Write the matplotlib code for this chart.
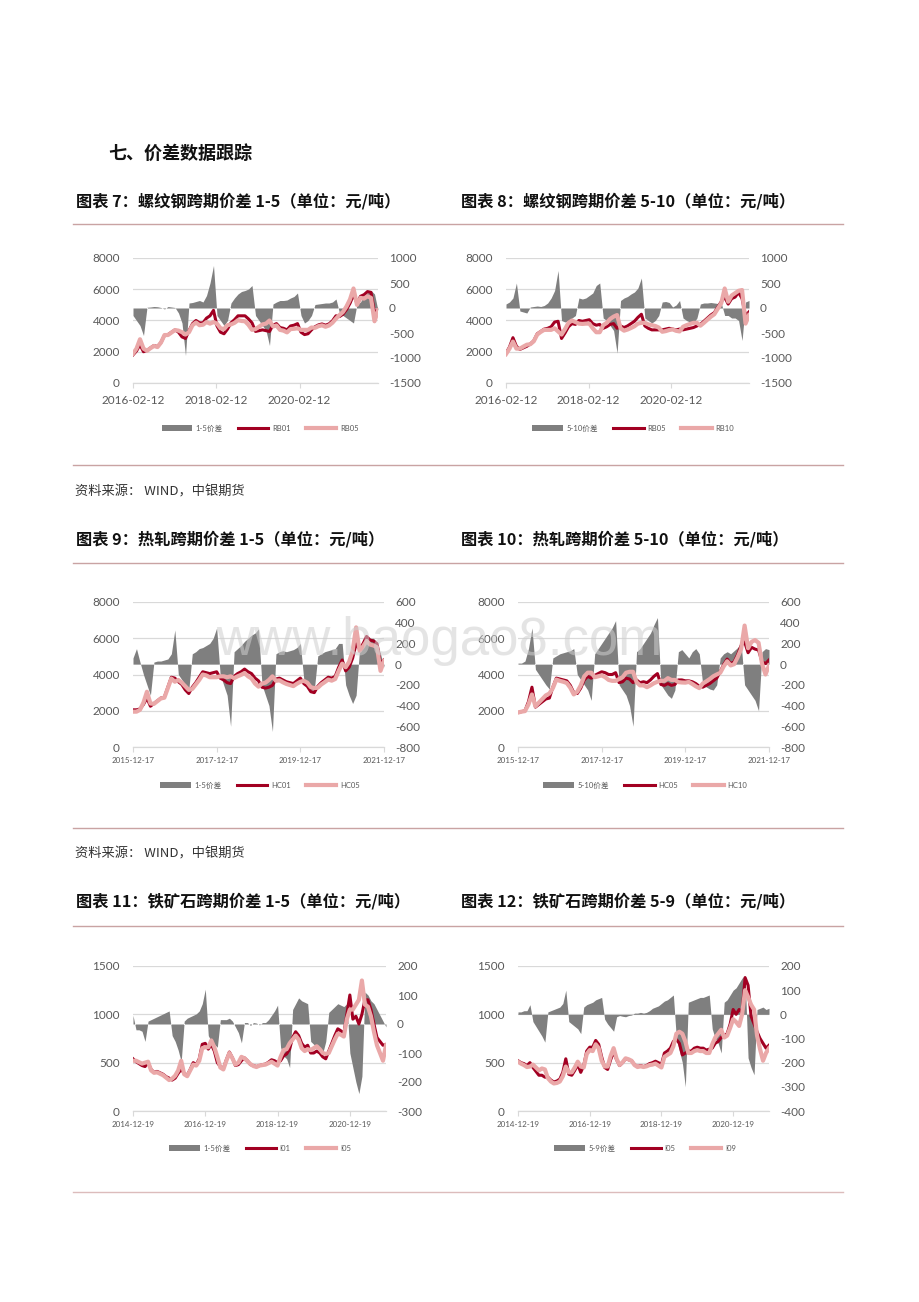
import matplotlib
matplotlib.use('Agg')
import matplotlib.pyplot as plt
from matplotlib.lines import Line2D
from matplotlib.patches import Patch
import pandas as pd

plt.rcParams['font.family'] = ['Lato', 'Noto Sans CJK SC', 'DejaVu Sans']
plt.rcParams['axes.unicode_minus'] = False

# ---------------- data (monthly readings) ----------------
# Chart 7: rebar 1-5 spread, 2016-02 .. 2021-12
c7_spread = [-150, -250, -350, -550, 15, 20, 30, 25, 10, -20, 30, 20, 10, -100, -300, -950,
             100, 110, 130, 150, 120, 250, 500, 850, -150, -250, -350, -250, 100, 200, 280, 330,
             350, 380, 450, -150, -250, -350, -450, -750, 80, 120, 150, 150, 160, 200, 230, 300,
             -150, -300, -250, -150, 70, 80, 90, 100, 100, 120, 180, -100, -150, -200, -250, -300,
             80, 120, 250, 300, 350, 280, -50]
c7_rb01 = [1800, 2050, 2450, 2000, 2080, 2250, 2400, 2330, 2600, 3050, 3100, 3250, 3400, 3250, 2950, 2850,
           3350, 3800, 4000, 3850, 3850, 4150, 4300, 4650, 3650, 3250, 3150, 3450, 3850, 4050, 4300, 4300,
           4300, 4100, 3850, 3300, 3350, 3400, 3350, 3300, 3700, 3800, 3550, 3500, 3400, 3650, 3700, 3800,
           3250, 3100, 3150, 3400, 3600, 3720, 3780, 3700, 3780, 3980, 4300, 4250, 4400, 4700, 5100, 5650,
           5100, 5550, 5650, 5850, 5800, 4500, 4700]
c7_rb05 = [1880, 2200, 2800, 2200, 2060, 2230, 2370, 2300, 2590, 3070, 3070, 3230, 3390, 3350, 3250, 3100,
           3250, 3700, 3870, 3700, 3730, 3900, 3800, 3900, 3800, 3500, 3450, 3700, 3750, 3850, 4020, 3970,
           3950, 3720, 3400, 3450, 3600, 3750, 3800, 4000, 3620, 3680, 3400, 3350, 3240, 3450, 3470, 3500,
           3400, 3400, 3400, 3550, 3530, 3640, 3690, 3600, 3680, 3860, 4120, 4350, 4550, 4900, 5350, 6050,
           5000, 5450, 5400, 5550, 5450, 3950, 4650]

# Chart 8: rebar 5-10 spread, 2016-02 .. 2021-12
c8_spread = [80, 120, 200, 500, -60, -80, -100, 20, 30, 40, 30, 50, 100, 200, 350, 750,
             -250, -280, -250, -200, -150, 200, 180, 200, 250, 300, 450, 500, -200, -250, -350, -450,
             -900, 150, 200, 230, 280, 320, 400, 600, -200, -250, -300, -250, -150, 120, 130, 110,
             20, 60, 150, -200, -250, -280, -300, -200, 80, 100, 100, 110, 100, 90, 100, -150,
             -150, -200, -200, -250, -650, 120, 150]
c8_rb05 = [1900, 2300, 2900, 2350, 2150, 2250, 2350, 2500, 2700, 3150, 3300, 3450, 3500, 3600, 3900, 3950,
           2850, 3200, 3600, 3800, 3750, 4000, 3950, 4000, 4050, 3800, 3700, 3750, 3500, 3600, 3750, 3800,
           3500, 3650, 3550, 3650, 3800, 3950, 4200, 4400, 3650, 3500, 3400, 3400, 3400, 3400, 3450, 3500,
           3450, 3400, 3450, 3400, 3450, 3500, 3550, 3650, 3750, 3950, 4150, 4350, 4500, 4850, 5200, 5500,
           5050, 5400, 5500, 5800, 5400, 4300, 4550]
c8_rb10 = [1850, 2200, 2650, 2200, 2200, 2330, 2450, 2480, 2670, 3100, 3270, 3400, 3400, 3400, 3500, 3300,
           3100, 3450, 3850, 4000, 3900, 3800, 3780, 3800, 3800, 3500, 3250, 3250, 3700, 3850, 4100, 4250,
           4350, 3500, 3350, 3420, 3520, 3630, 3800, 3850, 3850, 3750, 3700, 3650, 3550, 3280, 3320, 3390,
           3430, 3340, 3300, 3600, 3700, 3780, 3850, 3850, 3670, 3850, 4050, 4240, 4400, 4750, 5100, 6050,
           5200, 5600, 5750, 5900, 5950, 3800, 4350]

# Chart 9: hot-rolled 1-5 spread, 2015-12 .. 2021-12
c9_spread = [60, 150, 20, -100, -200, -300, 20, 30, 30, 40, 50, 100, 330, -100, -150, -200,
             -250, 100, 120, 150, 160, 180, 200, 250, 350, -100, -200, -300, -600, 120, 150, 180,
             220, 250, 280, 300, 340, -200, -300, -400, -650, 100, 120, 130, 120, 130, 140, 160,
             200, -150, -200, -250, -250, 80, 100, 120, 130, 140, 150, 200, 200, -200, -300, -380,
             -300, 150, 200, 220, 250, 250, 200, 100, -30]
c9_hc01 = [2050, 2050, 2100, 2350, 2700, 2250, 2400, 2550, 2700, 2750, 3300, 3850, 3800, 3600, 3450, 3150,
           2950, 3300, 3550, 3850, 4150, 4100, 4050, 4100, 4150, 3800, 3700, 3550, 3500, 3900, 4050, 4150,
           4300, 4150, 4050, 3800, 3650, 3300, 3250, 3300, 3400, 3750, 3800, 3700, 3600, 3550, 3500, 3650,
           3800, 3500, 3350, 3050, 3000, 3350, 3550, 3700, 3850, 3800, 3900, 4400, 4800, 4200, 4400, 4900,
           5700, 5400, 5700, 6100, 5900, 5850, 5700, 4600, 4800]
c9_hc05 = [1950, 1950, 2050, 2450, 3050, 2400, 2380, 2530, 2680, 2720, 3250, 3780, 3600, 3700, 3550, 3350,
           3150, 3200, 3450, 3700, 4000, 3950, 3850, 3850, 3850, 3900, 3900, 3850, 3900, 3800, 3900, 3980,
           4080, 3900, 3780, 3500, 3330, 3500, 3550, 3700, 3900, 3650, 3680, 3570, 3480, 3420, 3360, 3490,
           3600, 3650, 3550, 3300, 3250, 3270, 3450, 3580, 3720, 3660, 3750, 4200, 4600, 4400, 4700, 5300,
           6600, 5300, 5550, 5850, 5650, 5600, 5500, 4200, 4750]

# Chart 10: hot-rolled 5-10 spread, 2015-12 .. 2021-12
c10_spread = [10, 10, 30, 150, 350, -50, -100, -150, -200, -240, 60, 80, 100, 110, 120, 130,
              150, -100, -150, -200, -250, -350, 100, 150, 200, 250, 300, 350, 420, -200, -250, -300,
              -400, -600, 120, 150, 200, 250, 300, 380, 450, -200, -250, -300, -330, -250, 120, 140,
              100, 60, 120, 150, 100, -200, -220, -240, -250, -200, 60, 100, 120, 100, 130, 160,
              200, -200, -250, -300, -350, -450, 120, 150, 140]
c10_hc05 = [1900, 1950, 2000, 2500, 3300, 2200, 2350, 2500, 2650, 2700, 3300, 3800, 3750, 3700, 3650, 3400,
            3000, 2950, 3250, 3700, 3900, 3800, 3950, 4050, 4150, 4100, 4000, 4000, 4100, 3550, 3600, 3800,
            3750, 3550, 3700, 3550, 3600, 3550, 3700, 3900, 4050, 3450, 3400, 3500, 3400, 3450, 3700, 3700,
            3650, 3650, 3600, 3500, 3350, 3300, 3400, 3500, 3650, 3800, 4150, 4550, 4850, 4600, 4700, 5100,
            5600, 5800, 5200, 5500, 5400, 5350, 4700, 4600, 4800]
c10_hc10 = [1900, 1950, 1980, 2350, 2900, 2250, 2450, 2650, 2850, 2950, 3250, 3720, 3650, 3600, 3530, 3270,
            2900, 3050, 3400, 3900, 4100, 4100, 3850, 3900, 3950, 3850, 3700, 3650, 3650, 3750, 3850, 4100,
            4150, 4150, 3580, 3400, 3400, 3300, 3400, 3520, 3600, 3650, 3650, 3800, 3700, 3700, 3580, 3560,
            3550, 3590, 3480, 3350, 3250, 3500, 3620, 3750, 3900, 4000, 4090, 4450, 4730, 4500, 4570, 4950,
            5400, 6700, 5450, 5800, 5900, 5750, 4600, 4000, 4500]

# Chart 11: iron ore 1-5 spread, 2014-12 .. 2021-12
c11_spread = [30, -20, -20, -25, -60, 10, 15, 20, 25, 30, 35, 40, 45, -40, -60, -90,
              -130, 10, 20, 25, 30, 35, 45, 70, 120, -40, -60, -70, -80, 15, 15, 15,
              20, 10, -10, -30, -65, 5, 5, -5, 5, 3, -3, 5, 5, 15, 30, 45,
              65, -80, -110, -120, -150, 50, 70, 90, 80, 75, 70, -60, -70, -80, -90, -100,
              -60, 40, 50, 60, 70, 65, 60, 70, -100, -150, -200, -240, -180, 110, 100, 80,
              70, 50, 30, 10, -10]
c11_i01 = [540, 510, 490, 470, 460, 500, 430, 400, 410, 395, 380, 355, 340, 320, 340, 390,
           430, 390, 370, 430, 500, 480, 540, 690, 700, 640, 690, 620, 500, 460, 440, 530,
           610, 550, 470, 480, 520, 550, 520, 480, 470, 460, 470, 480, 485, 505, 530, 520,
           500, 520, 570, 590, 640, 760, 820, 780, 700, 660, 680, 600, 600, 620, 600, 560,
           540, 620, 700, 780, 850, 830, 800, 1000, 1200, 950, 980, 900, 1000, 1150, 1150, 1050,
           900, 760, 720, 680, 690]
c11_i05 = [520, 520, 505, 490, 500, 510, 420, 395, 400, 385, 370, 345, 320, 335, 365, 420,
           520, 380, 360, 420, 480, 470, 520, 650, 660, 660, 730, 660, 560, 450, 430, 520,
           600, 545, 480, 500, 560, 545, 515, 485, 465, 455, 470, 475, 480, 495, 510, 490,
           470, 560, 630, 640, 700, 740, 780, 740, 650, 620, 640, 630, 650, 670, 640, 600,
           590, 600, 670, 740, 800, 790, 770, 950, 1050, 1050, 1100, 1150, 1350, 1100, 1080, 980,
           820, 680, 600, 520, 680]

# Chart 12: iron ore 5-9 spread, 2014-12 .. 2021-12
c12_spread = [10, 10, 15, 15, 40, -30, -50, -70, -90, -115, 10, 15, 20, 25, 30, 45,
              100, -30, -40, -50, -60, -80, 30, 40, 45, 50, 60, 65, 70, -20, -40, -55,
              -70, -10, -5, -8, -10, -5, -3, 5, 5, 8, 5, 8, 15, 25, 30, 35,
              45, 55, 60, 70, 80, -100, -150, -200, -300, 50, 55, 60, 65, 70, 70, 75,
              80, -60, -100, -120, -160, 50, 60, 80, 100, 110, 130, 150, 160, -180, -220, -250,
              20, 25, 30, 20, 25]
c12_i05 = [520, 500, 490, 470, 500, 450, 410, 370, 370, 350, 350, 320, 300, 310, 330, 400,
           540, 380, 370, 420, 480, 400, 470, 620, 660, 660, 730, 690, 560, 450, 430, 530,
           610, 530, 470, 500, 540, 530, 520, 480, 460, 470, 460, 470, 490, 500, 515, 500,
           480, 600, 620, 650, 720, 740, 700, 580, 600, 620, 620, 650, 660, 650, 650, 630,
           640, 650, 700, 720, 760, 780, 800, 900, 1050, 1000, 1050, 1020, 1380, 1300, 980, 900,
           820, 750, 700, 650, 680]
c12_i09 = [510, 490, 475, 455, 460, 480, 450, 420, 440, 430, 340, 305, 285, 290, 305, 360,
           460, 400, 400, 450, 510, 460, 450, 590, 630, 620, 690, 650, 520, 460, 460, 570,
           650, 540, 475, 505, 545, 535, 520, 475, 455, 462, 455, 462, 475, 480, 490, 470,
           450, 560, 580, 600, 670, 800, 820, 800, 720, 600, 600, 620, 630, 620, 620, 600,
           600, 690, 760, 800, 840, 760, 780, 860, 950, 920, 880, 1000, 1250, 1180, 1100, 1050,
           780, 640, 520, 600, 650]

# x tick labels
xt_rebar = ['2016-02-12', '2018-02-12', '2020-02-12']
xt_hc = ['2015-12-17', '2017-12-17', '2019-12-17', '2021-12-17']
xt_ore = ['2014-12-19', '2016-12-19', '2018-12-19', '2020-12-19']

# ---------------- styling ----------------
W, H = 920, 1302
GREY = '#7f7f7f'
RED = '#a20022'
PINK = '#eaa8a8'
TXT = '#595959'
GRID = '#d9d9d9'
RULE = '#c9a3a3'

fig = plt.figure(figsize=(W / 100, H / 100), dpi=100)
fig.patch.set_facecolor('white')


def frect(left, top, right, bottom):
    return [left / W, 1 - bottom / H, (right - left) / W, (bottom - top) / H]


def draw(rect, start, end, spread, s1, s2, lylim, lyticks, rylim, ryticks,
         xtl, xfs, labels, legend_xy):
    n = len(spread)
    dates = pd.date_range(start, end, periods=n)
    ax = fig.add_axes(rect)
    ax2 = ax.twinx()
    ax3 = ax.twinx()
    for a in (ax, ax2, ax3):
        for s in a.spines.values():
            s.set_visible(False)
    ax.spines['bottom'].set_visible(True)
    ax.spines['bottom'].set_color(GRID)
    ax.spines['bottom'].set_linewidth(0.9)

    ax.set_ylim(*lylim)
    ax.set_yticks(lyticks)
    ax.set_yticklabels([str(v) for v in lyticks])
    ax.yaxis.grid(True, color=GRID, linewidth=0.9)
    ax.set_axisbelow(True)
    ax.tick_params(axis='y', length=0, pad=9.5, labelsize=8.5, labelcolor=TXT)
    ax.set_xlim(dates[0], dates[-1])
    ax.set_xticks(pd.to_datetime(xtl))
    ax.set_xticklabels(xtl)
    ax.tick_params(axis='x', length=3.5, width=0.8, color=GRID, labelsize=xfs,
                   labelcolor=TXT, pad=3.5 if xfs < 7 else 5)

    ax2.fill_between(dates, 0, spread, color=GREY, linewidth=0)
    ax2.set_ylim(*rylim)
    ax2.set_yticks(ryticks)
    ax2.set_yticklabels([str(v) for v in ryticks])
    ax2.tick_params(axis='y', length=0, pad=8, labelsize=8.5, labelcolor=TXT)

    ax3.plot(dates, s1, color=RED, linewidth=2.2, solid_joinstyle='round')
    ax3.plot(dates, s2, color=PINK, linewidth=3.0, solid_joinstyle='round')
    ax3.set_ylim(*lylim)
    ax3.set_yticks([])
    ax3.set_xlim(dates[0], dates[-1])

    handles = [Patch(facecolor=GREY, edgecolor='none'),
               Line2D([], [], color=RED, linewidth=2.2),
               Line2D([], [], color=PINK, linewidth=3.0)]
    fig.legend(handles, labels, loc='center',
               bbox_to_anchor=(legend_xy[0] / W, 1 - legend_xy[1] / H),
               ncol=3, frameon=False, fontsize=5.5, handlelength=4.0,
               handletextpad=0.45, columnspacing=2.0, labelcolor=TXT,
               borderpad=0, borderaxespad=0)


L_rebar = (0, 8000)
T_rebar = [0, 2000, 4000, 6000, 8000]
R_rebar = (-1500, 1000)
RT_rebar = [-1500, -1000, -500, 0, 500, 1000]
R_hc = (-800, 600)
RT_hc = [-800, -600, -400, -200, 0, 200, 400, 600]
L_ore = (0, 1500)
T_ore = [0, 500, 1000, 1500]
R_ore1 = (-300, 200)
RT_ore1 = [-300, -200, -100, 0, 100, 200]
R_ore2 = (-400, 200)
RT_ore2 = [-400, -300, -200, -100, 0, 100, 200]

draw(frect(133, 258, 378, 383), '2016-02-12', '2021-12-31', c7_spread, c7_rb01, c7_rb05,
     L_rebar, T_rebar, R_rebar, RT_rebar, xt_rebar, 8.5, ['1-5价差', 'RB01', 'RB05'], (260, 428))
draw(frect(506, 258, 749, 383), '2016-02-12', '2021-12-31', c8_spread, c8_rb05, c8_rb10,
     L_rebar, T_rebar, R_rebar, RT_rebar, xt_rebar, 8.5, ['5-10价差', 'RB05', 'RB10'], (633, 428))
draw(frect(133, 602, 384, 747), '2015-12-17', '2021-12-17', c9_spread, c9_hc01, c9_hc05,
     L_rebar, T_rebar, R_hc, RT_hc, xt_hc, 5.8, ['1-5价差', 'HC01', 'HC05'], (260, 785))
draw(frect(518, 602, 769, 747), '2015-12-17', '2021-12-17', c10_spread, c10_hc05, c10_hc10,
     L_rebar, T_rebar, R_hc, RT_hc, xt_hc, 5.8, ['5-10价差', 'HC05', 'HC10'], (645, 785))
draw(frect(133, 966, 386, 1111), '2014-12-19', '2021-12-20', c11_spread, c11_i01, c11_i05,
     L_ore, T_ore, R_ore1, RT_ore1, xt_ore, 5.8, ['1-5价差', 'I01', 'I05'], (260, 1148))
draw(frect(518, 966, 769, 1111), '2014-12-19', '2021-12-20', c12_spread, c12_i05, c12_i09,
     L_ore, T_ore, R_ore2, RT_ore2, xt_ore, 5.8, ['5-9价差', 'I05', 'I09'], (645, 1148))

# ---------------- page text ----------------
CJK = ['Noto Sans CJK SC', 'DejaVu Sans']


def ptext(x, y, s, size, weight='normal', color='#111111'):
    fig.text(x / W, 1 - y / H, s, fontsize=size, fontweight=weight, color=color,
             family=CJK, ha='left', va='center')


ptext(108, 153, '七、价差数据跟踪', 13, 'bold')
ptext(76, 201, '图表 7：螺纹钢跨期价差 1-5（单位：元/吨）', 11.7, 'bold')
ptext(461, 201, '图表 8：螺纹钢跨期价差 5-10（单位：元/吨）', 11.7, 'bold')
ptext(76, 539, '图表 9：热轧跨期价差 1-5（单位：元/吨）', 11.7, 'bold')
ptext(461, 539, '图表 10：热轧跨期价差 5-10（单位：元/吨）', 11.7, 'bold')
ptext(76, 901, '图表 11：铁矿石跨期价差 1-5（单位：元/吨）', 11.7, 'bold')
ptext(461, 901, '图表 12：铁矿石跨期价差 5-9（单位：元/吨）', 11.7, 'bold')
ptext(75, 491.5, '资料来源： WIND，中银期货', 9.5, 'normal', '#333333')
ptext(75, 853.5, '资料来源： WIND，中银期货', 9.5, 'normal', '#333333')

for yy, col in [(224, RULE), (465, RULE), (562.7, RULE), (828.3, RULE), (925.7, RULE), (1192, '#dcbcbc')]:
    fig.add_artist(Line2D([73 / W, 843 / W], [1 - yy / H, 1 - yy / H], color=col, linewidth=1.0))

# watermark
fig.text(439 / W, 1 - 655 / H, 'www.baogao8.com', fontsize=38, family='Liberation Sans',
         color='#cfcfcf', alpha=0.55, ha='center', va='baseline', zorder=50)

fig.savefig('out.png', dpi=100, facecolor='white')
